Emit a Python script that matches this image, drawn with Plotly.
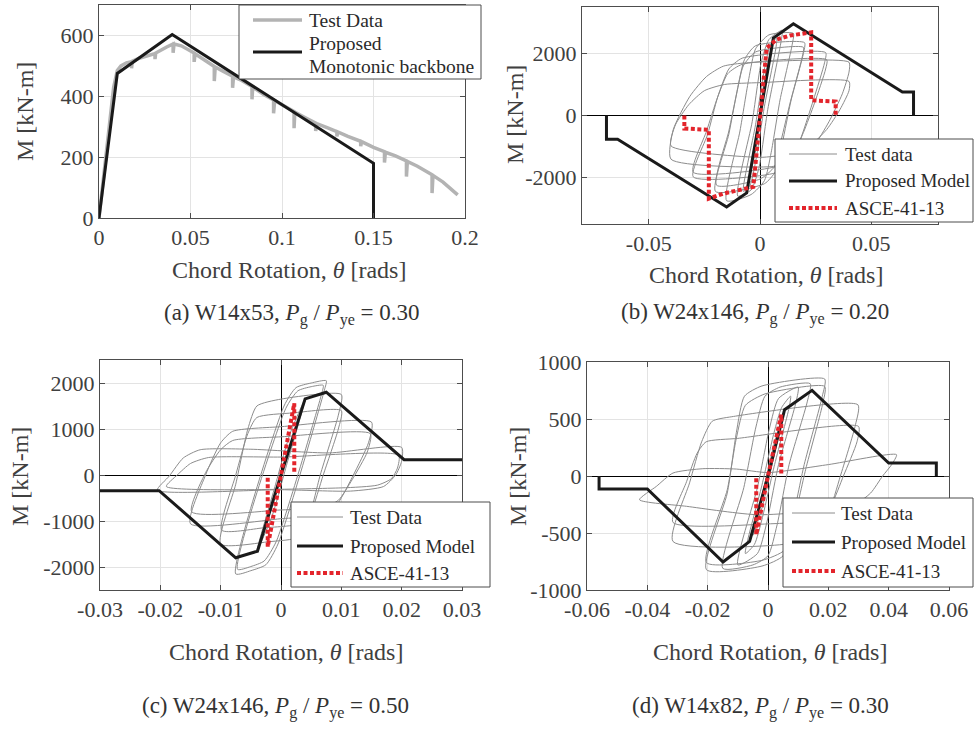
import plotly.graph_objects as go

W, H = 974, 729
FONT = "'Liberation Serif', 'Times New Roman', Times, 'DejaVu Serif', serif"
TXT = "#404040"
FRAME = "#4d4d4d"
GRID = "#e3e3e3"
GRAY_THICK = "#b3b3b3"
GRAY_THIN = "#8c8c8c"
BLACK = "#1a1a1a"
RED = "#e3242b"
RED_DASH = "4px,2.5px"

# ---------------- (a) W14x53, monotonic test ----------------
a_test = [(0, 0), (0.002, 110), (0.005, 290), (0.008, 430), (0.010, 485), (0.012, 500),
          (0.015, 510), (0.0178, 514), (0.0178, 492), (0.0182, 515), (0.022, 525),
          (0.026, 532), (0.0306, 540), (0.0306, 522), (0.031, 542), (0.037, 562),
          (0.0405, 572), (0.0405, 543), (0.041, 572), (0.045, 566), (0.050, 550),
          (0.052, 542), (0.052, 513), (0.0525, 540), (0.056, 526), (0.060, 508),
          (0.063, 498), (0.063, 450), (0.0635, 496), (0.068, 482), (0.073, 466),
          (0.073, 428), (0.0735, 464), (0.078, 452), (0.0836, 432), (0.0836, 390),
          (0.084, 430), (0.090, 406), (0.0954, 388), (0.0954, 344), (0.096, 386),
          (0.100, 372), (0.1066, 350), (0.1066, 295), (0.107, 348), (0.112, 332),
          (0.1184, 312), (0.1184, 286), (0.119, 310), (0.125, 296), (0.130, 284),
          (0.130, 268), (0.1305, 283), (0.136, 268), (0.143, 252), (0.143, 236),
          (0.1435, 251), (0.150, 232), (0.156, 218), (0.156, 182), (0.1565, 216),
          (0.162, 204), (0.168, 188), (0.168, 136), (0.1685, 186), (0.174, 170),
          (0.182, 142), (0.182, 82), (0.1825, 140), (0.188, 118), (0.192, 98),
          (0.196, 76)]
a_bb_x = [0, 0.010, 0.040, 0.150, 0.150]
a_bb_y = [0, 475, 603, 180, 0]

# ---------------- (b) W24x146, Pg/Pye = 0.20 ----------------
b_loops = [
    [(-0.005, -2050), (-0.001, -300), (0.002, 1150), (0.005, 2100), (0.001, 300),
     (-0.002, -1150), (-0.005, -2050)],
    [(-0.0075, -2450), (-0.002, -300), (0.002, 1500), (0.0045, 2250), (0.0075, 2500),
     (0.0072, 2200), (0.002, 300), (-0.002, -1500), (-0.0045, -2250), (-0.0075, -2450)],
    [(-0.010, -2600), (-0.0035, -200), (0.0005, 1700), (0.004, 2450), (0.010, 2750),
     (0.0095, 2400), (0.0035, 200), (-0.0005, -1700), (-0.004, -2400), (-0.010, -2600)],
    [(-0.015, -2750), (-0.009, -500), (-0.005, 1200), (-0.002, 2150), (0.004, 2600),
     (0.015, 2650), (0.0145, 2300), (0.009, 500), (0.005, -1200), (0.002, -2100),
     (-0.004, -2550), (-0.015, -2750)],
    [(-0.020, -2450), (-0.014, -600), (-0.010, 900), (-0.007, 1800), (-0.002, 2250),
     (0.020, 2350), (0.0195, 2000), (0.014, 500), (0.010, -900), (0.007, -1800),
     (0.002, -2200), (-0.020, -2450)],
    [(-0.0195, -2250), (-0.014, -500), (-0.0105, 700), (-0.0075, 1600), (-0.002, 2050),
     (0.0195, 2200), (0.019, 1900), (0.0135, 400), (0.0095, -800), (0.0065, -1650),
     (0.0, -2050), (-0.0195, -2250)],
    [(-0.030, -1980), (-0.0235, -600), (-0.019, 600), (-0.014, 1500), (-0.008, 1850),
     (0.0295, 2030), (0.029, 1700), (0.024, 500), (0.019, -600), (0.014, -1500),
     (0.007, -1850), (-0.030, -1980)],
    [(-0.030, -1830), (-0.024, -500), (-0.019, 600), (-0.0145, 1350), (-0.008, 1650),
     (0.030, 1800), (0.0295, 1500), (0.0245, 400), (0.0195, -550), (0.0145, -1300),
     (0.007, -1650), (-0.030, -1830)],
    [(-0.040, -1410), (-0.039, -460), (-0.0315, 620), (-0.024, 1260), (-0.0165, 1590),
     (-0.006, 1700), (0.040, 1720), (0.040, 1400), (0.037, 700), (0.031, -200),
     (0.024, -1000), (0.016, -1450), (0.005, -1650), (-0.040, -1410)],
    [(-0.040, -980), (-0.038, -300), (-0.032, 350), (-0.025, 800), (-0.016, 1000),
     (0.0, 1060), (0.040, 1100), (0.040, 800), (0.036, 200), (0.030, -450),
     (0.022, -1000), (0.012, -1250), (0.0, -1350), (-0.040, -980)],
]
b_bb_x = [0.069, 0.069, 0.064, 0.015, 0.006, 0, -0.006, -0.015, -0.064, -0.069, -0.069]
b_bb_y = [0, 760, 760, 2960, 2500, 0, -2500, -2950, -765, -765, 0]
b_asce_x = [-0.034, -0.034, -0.023, -0.023, -0.0165, -0.003, 0.003, 0.0075, 0.0135,
            0.023, 0.023, 0.034, 0.034]
b_asce_y = [0, -420, -460, -2680, -2520, -2300, 2180, 2450, 2580, 2680, 490, 450, 0]

# ---------------- (c) W24x146, Pg/Pye = 0.50 ----------------
c_loops = [
    [(-0.004, -1650), (-0.001, -250), (0.0015, 900), (0.004, 1650), (0.001, 250),
     (-0.0015, -900), (-0.004, -1650)],
    [(-0.0075, -2150), (0.0005, 1500), (0.0025, 1900), (0.005, 2000), (0.0075, 2050),
     (0.0072, 1850), (-0.0005, -1500), (-0.0025, -1950), (-0.005, -2080), (-0.0075, -2150)],
    [(-0.0072, -2050), (0.0008, 1450), (0.0028, 1830), (0.005, 1920), (0.0070, 1950),
     (0.0067, 1750), (-0.0008, -1450), (-0.0028, -1870), (-0.005, -1990), (-0.0072, -2050)],
    [(-0.010, -1500), (-0.0075, -200), (-0.0055, 1000), (-0.004, 1500), (0.0, 1650),
     (0.010, 1750), (0.0095, 1300), (0.0065, 0), (0.0045, -1000), (0.003, -1350),
     (-0.002, -1450), (-0.010, -1500)],
    [(-0.0098, -1200), (-0.0075, 0), (-0.0055, 900), (-0.004, 1250), (0.002, 1350),
     (0.010, 1400), (0.0095, 1000), (0.007, 0), (0.005, -800), (0.0035, -1050),
     (-0.003, -1150), (-0.0098, -1200)],
    [(-0.015, -1060), (-0.0125, 0), (-0.010, 700), (-0.008, 950), (0.0, 1050),
     (0.015, 1150), (0.0145, 700), (0.012, 0), (0.0095, -600), (0.0075, -850),
     (0.0, -950), (-0.015, -1060)],
    [(-0.0148, -800), (-0.0125, 50), (-0.010, 550), (-0.008, 750), (0.0, 830),
     (0.0148, 900), (0.0143, 500), (0.0118, -100), (0.0095, -550), (0.007, -700),
     (0.0, -760), (-0.0148, -800)],
    [(-0.0205, -330), (-0.0185, -20), (-0.0162, 370), (-0.0134, 549), (-0.005, 560),
     (0.008, 480), (0.020, 600), (0.020, 300), (0.019, 0), (0.017, -250),
     (0.0115, -350), (0.0, -320), (-0.0205, -330)],
    [(-0.019, -250), (-0.0172, 0), (-0.015, 250), (-0.012, 380), (0.0, 390),
     (0.0195, 430), (0.0193, 150), (0.0183, -80), (0.016, -220), (0.010, -280),
     (-0.019, -250)],
]
c_bb_x = [-0.030, -0.0202, -0.0075, -0.0039, 0, 0.0040, 0.0075, 0.0204, 0.030]
c_bb_y = [-340, -340, -1800, -1657, 0, 1655, 1800, 332, 332]
c_asce_x = [-0.0022, -0.0022, 0, 0.0022, 0.0022]
c_asce_y = [-60, -1560, 0, 1560, 50]

# ---------------- (d) W14x82, Pg/Pye = 0.30 ----------------
d_loops = [
    [(-0.005, -520), (-0.001, -60), (0.002, 280), (0.005, 540), (0.001, 60),
     (-0.002, -280), (-0.005, -520)],
    [(-0.0075, -680), (-0.002, -80), (0.002, 380), (0.0045, 600), (0.0075, 700),
     (0.007, 600), (0.002, 80), (-0.002, -380), (-0.0045, -600), (-0.0075, -680)],
    [(-0.010, -780), (-0.0035, -100), (0.0005, 420), (0.0035, 680), (0.010, 780),
     (0.0093, 650), (0.0035, 100), (-0.0005, -420), (-0.0035, -680), (-0.010, -780)],
    [(-0.015, -810), (-0.008, -100), (-0.004, 430), (-0.001, 700), (0.004, 780),
     (0.014, 810), (0.013, 650), (0.007, 100), (0.003, -430), (0.0, -700),
     (-0.005, -780), (-0.015, -810)],
    [(-0.0204, -822), (-0.0135, -150), (-0.0105, 380), (-0.0078, 700), (-0.002, 790),
     (0.0188, 851), (0.018, 700), (0.012, 100), (0.008, -400), (0.005, -700),
     (-0.002, -790), (-0.0204, -822)],
    [(-0.0204, -760), (-0.0135, -120), (-0.0105, 330), (-0.0075, 620), (-0.001, 720),
     (0.0188, 786), (0.018, 620), (0.0125, 60), (0.0085, -400), (0.0055, -650),
     (-0.002, -740), (-0.0204, -760)],
    [(-0.0315, -574), (-0.026, -60), (-0.022, 300), (-0.0185, 480), (-0.012, 520),
     (0.0298, 625), (0.029, 450), (0.024, 0), (0.020, -330), (0.015, -520),
     (0.005, -600), (-0.0315, -574)],
    [(-0.0315, -407), (-0.027, -50), (-0.0235, 200), (-0.0205, 300), (-0.010, 330),
     (0.030, 435), (0.0295, 300), (0.025, 0), (0.021, -250), (0.016, -380),
     (0.0, -420), (-0.0315, -407)],
    [(-0.0426, -208), (-0.037, -91), (-0.0315, 26), (-0.0216, 64), (-0.0105, 61),
     (0.0, 30), (0.020, 100), (0.0426, 187), (0.041, 100), (0.038, 0), (0.034, -150),
     (0.028, -260), (-0.003, -340), (-0.027, -266), (-0.0426, -208)],
]
d_bb_x = [-0.056, -0.056, -0.040, -0.0149, -0.0061, 0, 0.0055, 0.0146, 0.040, 0.0558, 0.0558]
d_bb_y = [0, -114, -114, -754, -574, 0, 582, 751, 114, 114, 0]
d_asce_x = [-0.0039, -0.0039, 0, 0.0044, 0.0044]
d_asce_y = [-20, -515, 0, 538, 10]

# ---------------- axes layout (pixel boxes) ----------------
panels = {
    1: dict(box=(99, 465, 5, 218), xr=[0, 0.2], yr=[0, 700],
            xt=[0, 0.05, 0.1, 0.15, 0.2], xl=["0", "0.05", "0.1", "0.15", "0.2"],
            yt=[0, 200, 400, 600], yl=["0", "200", "400", "600"], zero=False),
    2: dict(box=(582, 938, 7, 224), xr=[-0.08, 0.08], yr=[-3500, 3500],
            xt=[-0.05, 0, 0.05], xl=["-0.05", "0", "0.05"],
            yt=[-2000, 0, 2000], yl=["-2000", "0", "2000"], zero=True),
    3: dict(box=(100, 462, 360, 590), xr=[-0.03, 0.03], yr=[-2500, 2500],
            xt=[-0.03, -0.02, -0.01, 0, 0.01, 0.02, 0.03],
            xl=["-0.03", "-0.02", "-0.01", "0", "0.01", "0.02", "0.03"],
            yt=[-2000, -1000, 0, 1000, 2000], yl=["-2000", "-1000", "0", "1000", "2000"],
            zero=True),
    4: dict(box=(587, 949, 362, 590), xr=[-0.06, 0.06], yr=[-1000, 1000],
            xt=[-0.06, -0.04, -0.02, 0, 0.02, 0.04, 0.06],
            xl=["-0.06", "-0.04", "-0.02", "0", "0.02", "0.04", "0.06"],
            yt=[-1000, -500, 0, 500, 1000], yl=["-1000", "-500", "0", "500", "1000"],
            zero=True),
}

fig = go.Figure()


def ax(i):
    return ("x" if i == 1 else f"x{i}"), ("y" if i == 1 else f"y{i}")


def loops_xy(loops):
    xs, ys = [], []
    for lp in loops:
        xs += [p[0] for p in lp] + [None]
        ys += [p[1] for p in lp] + [None]
    return xs, ys


# (a)
xa, ya = ax(1)
fig.add_trace(go.Scatter(x=[p[0] for p in a_test], y=[p[1] for p in a_test], mode="lines",
                         line=dict(color=GRAY_THICK, width=3.5), name="Test Data",
                         xaxis=xa, yaxis=ya))
fig.add_trace(go.Scatter(x=a_bb_x, y=a_bb_y, mode="lines", line=dict(color=BLACK, width=3),
                         name="Proposed Monotonic backbone", xaxis=xa, yaxis=ya))

cyclic = {
    2: (b_loops, b_bb_x, b_bb_y, b_asce_x, b_asce_y, "Test data"),
    3: (c_loops, c_bb_x, c_bb_y, c_asce_x, c_asce_y, "Test Data"),
    4: (d_loops, d_bb_x, d_bb_y, d_asce_x, d_asce_y, "Test Data"),
}
for i, (loops, bx, by, rx, ry, tname) in cyclic.items():
    xa, ya = ax(i)
    lx, ly = loops_xy(loops)
    fig.add_trace(go.Scatter(x=lx, y=ly, mode="lines",
                             line=dict(color=GRAY_THIN, width=1, shape="spline", smoothing=0.6),
                             name=tname, xaxis=xa, yaxis=ya))
    fig.add_trace(go.Scatter(x=bx, y=by, mode="lines", line=dict(color=BLACK, width=3),
                             name="Proposed Model", xaxis=xa, yaxis=ya))
    fig.add_trace(go.Scatter(x=rx, y=ry, mode="lines",
                             line=dict(color=RED, width=4, dash=RED_DASH),
                             name="ASCE-41-13", xaxis=xa, yaxis=ya))

layout = dict(width=W, height=H, margin=dict(l=0, r=0, t=0, b=0, autoexpand=False),
              paper_bgcolor="white", plot_bgcolor="white",
              font=dict(family=FONT, color=TXT, size=22), showlegend=False)

for i, p in panels.items():
    x0, x1, y0, y1 = p["box"]
    xk = "xaxis" if i == 1 else f"xaxis{i}"
    yk = "yaxis" if i == 1 else f"yaxis{i}"
    xa, ya = ax(i)
    common = dict(showline=True, linecolor=FRAME, linewidth=1, mirror="ticks",
                  ticks="inside", ticklen=5, tickcolor=FRAME, showgrid=True,
                  gridcolor=GRID, gridwidth=1, tickfont=dict(family=FONT, size=22, color=TXT),
                  zeroline=p["zero"], zerolinecolor="black", zerolinewidth=1,
                  automargin=False)
    layout[xk] = dict(domain=[x0 / W, x1 / W], range=p["xr"], tickvals=p["xt"],
                      ticktext=p["xl"], anchor=ya, **common)
    layout[yk] = dict(domain=[1 - y1 / H, 1 - y0 / H], range=p["yr"], tickvals=p["yt"],
                      ticktext=p["yl"], anchor=xa, **common)

fig.update_layout(**layout)


# ---------------- legend boxes (pixel positions on the page) ----------------
def px(x):
    return x / W


def py(y):
    return 1 - y / H


GRAY_LEG = dict(color=GRAY_THIN, width=1)
BLACK_LEG = dict(color=BLACK, width=3)
RED_LEG = dict(color=RED, width=4, dash=RED_DASH)

legends = [
    # box (x0, x1, y0, y1), sample x-span, text x, sample rows, text rows
    dict(box=(239, 481, 5, 79), sx=(253, 302), tx=307, size=19.5,
         rows=[(20, dict(color=GRAY_THICK, width=3.5)), (52, BLACK_LEG)],
         texts=[(20, "Test Data"), (43, "Proposed"), (66, "Monotonic backbone")]),
    dict(box=(775, 973, 139, 222), sx=(789, 837), tx=843, size=19,
         rows=[(154, GRAY_LEG), (181, BLACK_LEG), (208, RED_LEG)],
         texts=[(154, "Test data"), (181, "Proposed Model"), (208, "ASCE-41-13")]),
    dict(box=(291, 490, 502, 587), sx=(297, 343), tx=348, size=19,
         rows=[(517, GRAY_LEG), (546, BLACK_LEG), (573, RED_LEG)],
         texts=[(517, "Test Data"), (546, "Proposed Model"), (573, "ASCE-41-13")]),
    dict(box=(783, 973, 498, 587), sx=(792, 835), tx=839, size=19,
         rows=[(513, GRAY_LEG), (542, BLACK_LEG), (571, RED_LEG)],
         texts=[(513, "Test Data"), (542, "Proposed Model"), (571, "ASCE-41-13")]),
]
for lg in legends:
    x0, x1, y0, y1 = lg["box"]
    fig.add_shape(type="rect", xref="paper", yref="paper", x0=px(x0), x1=px(x1),
                  y0=py(y1), y1=py(y0), fillcolor="white",
                  line=dict(color=FRAME, width=1), layer="above")
    for y, ln in lg["rows"]:
        fig.add_shape(type="line", xref="paper", yref="paper", x0=px(lg["sx"][0]),
                      x1=px(lg["sx"][1]), y0=py(y), y1=py(y), line=ln, layer="above")
    for y, t in lg["texts"]:
        fig.add_annotation(x=px(lg["tx"]), y=py(y), xref="paper", yref="paper", text=t,
                           showarrow=False, xanchor="left", yanchor="middle",
                           font=dict(family=FONT, size=lg["size"], color="#2a2a2a"))

# axis titles and captions
xtitle = "Chord Rotation, <i>θ</i> [rads]"
titles = [
    (289, 270, xtitle, 0), (25, 112, "M [kN-m]", -90),
    (766, 275, xtitle, 0), (515, 115, "M [kN-m]", -90),
    (286, 652, xtitle, 0), (20, 477, "M [kN-m]", -90),
    (770, 652, xtitle, 0), (518, 477, "M [kN-m]", -90),
]
for x, y, t, ang in titles:
    fig.add_annotation(x=px(x), y=py(y), xref="paper", yref="paper", text=t,
                       showarrow=False, textangle=ang, xanchor="center", yanchor="middle",
                       font=dict(family=FONT, size=24, color=TXT))

captions = [
    (292, 315, "(a) W14x53, <i>P</i><sub>g</sub> / <i>P</i><sub>ye</sub> = 0.30"),
    (755, 313, "(b) W24x146, <i>P</i><sub>g</sub> / <i>P</i><sub>ye</sub> = 0.20"),
    (275, 707, "(c) W24x146, <i>P</i><sub>g</sub> / <i>P</i><sub>ye</sub> = 0.50"),
    (760, 707, "(d) W14x82, <i>P</i><sub>g</sub> / <i>P</i><sub>ye</sub> = 0.30"),
]
for x, y, t in captions:
    fig.add_annotation(x=px(x), y=py(y), xref="paper", yref="paper", text=t,
                       showarrow=False, xanchor="center", yanchor="middle",
                       font=dict(family=FONT, size=23, color="#333333"))

fig.write_html("out.html")
